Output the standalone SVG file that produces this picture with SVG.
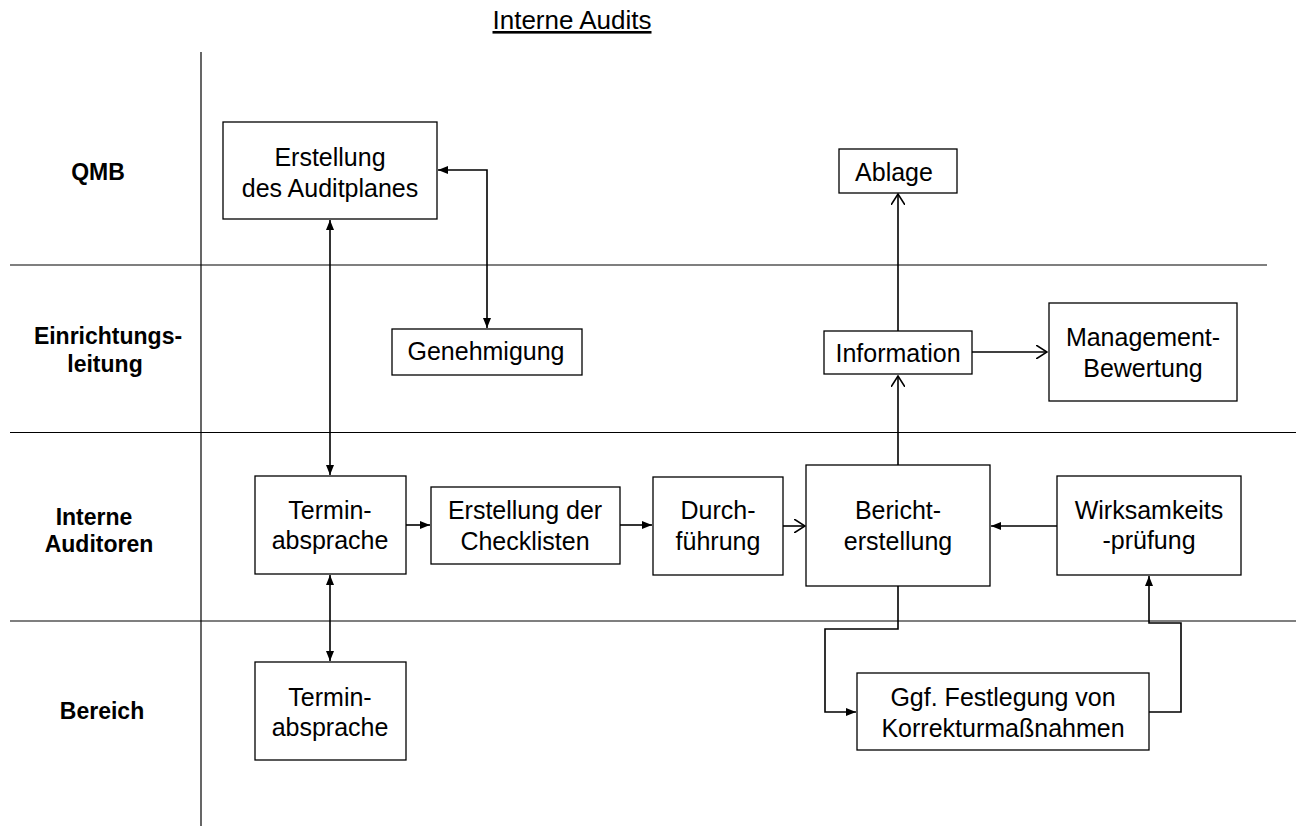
<svg xmlns="http://www.w3.org/2000/svg" width="1296" height="826" viewBox="0 0 1296 826">
  <style>
    .lane { stroke: #000; stroke-width: 1.2; fill: none; }
    .box { fill: #fff; stroke: #000; stroke-width: 1.3; }
    .t { font-family: "Liberation Sans", Arial, sans-serif; font-size: 25px; fill: #000; text-anchor: middle; }
    .lbl { font-family: "Liberation Sans", Arial, sans-serif; font-size: 23px; font-weight: bold; fill: #000; text-anchor: middle; }
    .title { font-family: "Liberation Sans", Arial, sans-serif; font-size: 26px; fill: #000; text-anchor: middle; text-decoration: underline; }
    .cs { stroke: #000; stroke-width: 1.6; fill: none; marker-end: url(#solid); }
    .cd { stroke: #000; stroke-width: 1.6; fill: none; marker-start: url(#solidStart); marker-end: url(#solid); }
    .co { stroke: #000; stroke-width: 1.6; fill: none; marker-end: url(#open); }
  </style>
  <defs>
    <marker id="solid" viewBox="0 0 10 8" refX="10" refY="4" markerWidth="10" markerHeight="8" markerUnits="userSpaceOnUse" orient="auto">
      <path d="M0,0 L10,4 L0,8 Z" fill="#000"/>
    </marker>
    <marker id="solidStart" viewBox="0 0 10 8" refX="0" refY="4" markerWidth="10" markerHeight="8" markerUnits="userSpaceOnUse" orient="auto">
      <path d="M10,0 L0,4 L10,8 Z" fill="#000"/>
    </marker>
    <marker id="open" viewBox="0 0 12 14" refX="11" refY="7" markerWidth="12" markerHeight="14" markerUnits="userSpaceOnUse" orient="auto">
      <path d="M0,0 L11,7 L0,14" fill="none" stroke="#000" stroke-width="1.6"/>
    </marker>
  </defs>

  <rect width="1296" height="826" fill="#fff"/>

  <!-- title -->
  <text class="title" x="572" y="29">Interne Audits</text>

  <!-- swimlanes -->
  <g id="lanes">
    <line class="lane" x1="201" y1="52" x2="201" y2="826"/>
    <line class="lane" x1="10" y1="265" x2="1267" y2="265"/>
    <line class="lane" x1="10" y1="432.5" x2="1296" y2="432.5"/>
    <line class="lane" x1="10" y1="621" x2="1296" y2="621"/>
    <text class="lbl" x="98" y="180">QMB</text>
    <text class="lbl" x="108" y="344">Einrichtungs-</text>
    <text class="lbl" x="105" y="372">leitung</text>
    <text class="lbl" x="94" y="525">Interne</text>
    <text class="lbl" x="99" y="552">Auditoren</text>
    <text class="lbl" x="102" y="719">Bereich</text>
  </g>

  <!-- connectors -->
  <g id="connectors">
    <line class="cd" x1="330" y1="220" x2="330" y2="475"/>
    <polyline class="cd" points="438,170 487,170 487,328"/>
    <line class="cd" x1="330" y1="575" x2="330" y2="661"/>
    <line class="cs" x1="406" y1="525" x2="430" y2="525"/>
    <line class="cs" x1="620" y1="525" x2="652" y2="525"/>
    <line class="co" x1="783" y1="526" x2="805" y2="526"/>
    <line class="cs" x1="1057" y1="526" x2="991" y2="526"/>
    <line class="co" x1="898" y1="465" x2="898" y2="376"/>
    <line class="co" x1="898" y1="331" x2="898" y2="194"/>
    <line class="co" x1="972" y1="352" x2="1047" y2="352"/>
    <polyline class="cs" points="898,586 898,629 825,629 825,712 856,712"/>
    <polyline class="cs" points="1149,712 1181,712 1181,623 1149,623 1149,576"/>
  </g>

  <!-- nodes -->
  <g id="auditplan">
    <rect class="box" x="223" y="122" width="214" height="97"/>
    <text class="t" x="330" y="166">Erstellung</text>
    <text class="t" x="330" y="197">des Auditplanes</text>
  </g>
  <g id="genehmigung">
    <rect class="box" x="392" y="329" width="190" height="46"/>
    <text class="t" x="486" y="360">Genehmigung</text>
  </g>
  <g id="ablage">
    <rect class="box" x="839" y="149" width="118" height="44"/>
    <text class="t" x="894" y="181">Ablage</text>
  </g>
  <g id="information">
    <rect class="box" x="824" y="331" width="148" height="43"/>
    <text class="t" x="898" y="362">Information</text>
  </g>
  <g id="managementbewertung">
    <rect class="box" x="1049" y="303" width="188" height="98"/>
    <text class="t" x="1143" y="346">Management-</text>
    <text class="t" x="1143" y="377">Bewertung</text>
  </g>
  <g id="terminabsprache-auditoren">
    <rect class="box" x="255" y="476" width="151" height="98"/>
    <text class="t" x="330" y="519">Termin-</text>
    <text class="t" x="330" y="549">absprache</text>
  </g>
  <g id="checklisten">
    <rect class="box" x="431" y="487" width="189" height="77"/>
    <text class="t" x="525" y="519">Erstellung der</text>
    <text class="t" x="525" y="550">Checklisten</text>
  </g>
  <g id="durchfuehrung">
    <rect class="box" x="653" y="477" width="130" height="98"/>
    <text class="t" x="718" y="519">Durch-</text>
    <text class="t" x="718" y="550">führung</text>
  </g>
  <g id="berichterstellung">
    <rect class="box" x="806" y="465" width="184" height="121"/>
    <text class="t" x="898" y="519">Bericht-</text>
    <text class="t" x="898" y="550">erstellung</text>
  </g>
  <g id="wirksamkeitspruefung">
    <rect class="box" x="1057" y="476" width="184" height="99"/>
    <text class="t" x="1149" y="519">Wirksamkeits</text>
    <text class="t" x="1149" y="549">-prüfung</text>
  </g>
  <g id="korrekturmassnahmen">
    <rect class="box" x="857" y="673" width="292" height="77"/>
    <text class="t" x="1003" y="706">Ggf. Festlegung von</text>
    <text class="t" x="1003" y="737">Korrekturmaßnahmen</text>
  </g>
  <g id="terminabsprache-bereich">
    <rect class="box" x="255" y="662" width="151" height="98"/>
    <text class="t" x="330" y="706">Termin-</text>
    <text class="t" x="330" y="736">absprache</text>
  </g>
</svg>
